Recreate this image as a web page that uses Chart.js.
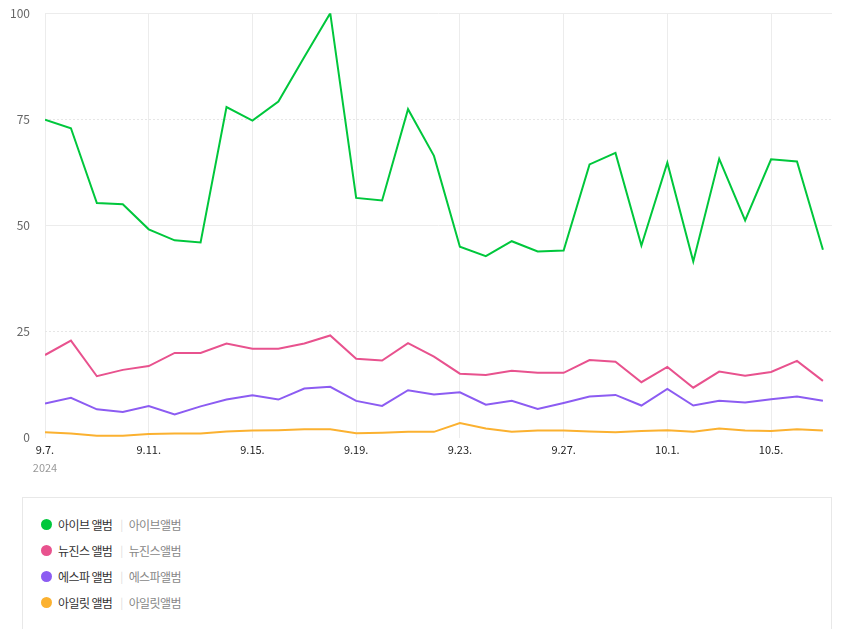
<!DOCTYPE html>
<html>
<head>
<meta charset="utf-8">
<script src="https://cdn.jsdelivr.net/npm/chart.js@4.4.1/dist/chart.umd.min.js"></script>
<style>
  body { margin: 0; background: #fff; font-family: "Noto Sans CJK KR", "Noto Sans", sans-serif; overflow: hidden; }
  .wrap { position: absolute; left: 0; top: -9px; width: 850px; height: 489px; }
  .legend { position: absolute; left: 22px; top: 497px; width: 810px; height: 140px; border: 1px solid #e8e8e8; box-sizing: border-box; padding-top: 13px; }
  .legend .row { display: flex; align-items: center; height: 26px; padding-left: 18px; font-size: 12px; letter-spacing: -0.6px; }
  .legend .dot { width: 11px; height: 11px; border-radius: 50%; margin-right: 6px; }
  .legend .name { color: #333; }
  .legend .sep { color: #ddd; margin: 0 6px 0 8px; font-size: 11px; }
  .legend .sub { color: #888; }
</style>
</head>
<body>
<div class="wrap"><canvas id="myChart"></canvas></div>
<div class="legend" id="legend"></div>
<script>
const dates = ['9.7.','9.8.','9.9.','9.10.','9.11.','9.12.','9.13.','9.14.','9.15.','9.16.','9.17.','9.18.','9.19.','9.20.','9.21.','9.22.',
               '9.23.','9.24.','9.25.','9.26.','9.27.','9.28.','9.29.','9.30.','10.1.','10.2.','10.3.','10.4.','10.5.','10.6.','10.7.'];
const yearLabel = '2024';

const names = ['아이브 앨범', '뉴진스 앨범', '에스파 앨범', '아일릿 앨범'];
const keywords = ['아이브앨범', '뉴진스앨범', '에스파앨범', '아일릿앨범'];
const colors = ['#00c73c', '#e8528e', '#8c5cf2', '#fbb130'];

const ive = [74.9, 72.9, 55.3, 55.0, 49.1, 46.5, 46.0, 77.9, 74.7, 79.2, 89.7, 100, 56.5, 55.9, 77.4, 66.4,
             45.0, 42.8, 46.3, 43.9, 44.1, 64.4, 67.1, 45.3, 64.8, 41.5, 65.7, 51.2, 65.6, 65.1, 44.3];
const newjeans = [19.5, 22.9, 14.5, 16.0, 16.9, 20.0, 20.0, 22.2, 21.0, 21.0, 22.2, 24.1, 18.6, 18.2, 22.3, 19.1,
                  15.1, 14.8, 15.8, 15.3, 15.3, 18.3, 17.9, 13.1, 16.7, 11.8, 15.6, 14.6, 15.5, 18.1, 13.4];
const aespa = [8.1, 9.4, 6.7, 6.1, 7.5, 5.5, 7.4, 9.0, 10.0, 9.0, 11.6, 12.0, 8.7, 7.5, 11.2, 10.2,
               10.7, 7.8, 8.7, 6.8, 8.2, 9.7, 10.1, 7.6, 11.5, 7.6, 8.7, 8.3, 9.1, 9.7, 8.7];
const illit = [1.3, 1.0, 0.5, 0.5, 0.9, 1.0, 1.0, 1.5, 1.7, 1.8, 2.0, 2.0, 1.1, 1.2, 1.4, 1.4,
               3.5, 2.2, 1.4, 1.7, 1.7, 1.5, 1.3, 1.6, 1.8, 1.4, 2.2, 1.7, 1.6, 2.0, 1.7];

const seriesValues = [ive, newjeans, aespa, illit];
const xTicks = [0, 4, 8, 12, 16, 20, 24, 28];

const datasets = seriesValues.map((vals, i) => ({
  label: names[i],
  data: vals.map((v, k) => ({ x: k, y: v })),
  borderColor: colors[i],
  backgroundColor: colors[i],
  borderWidth: 2,
  pointRadius: 0,
  tension: 0,
  fill: false
})).reverse();

// "2024" under the first date
const yearPlugin = {
  id: 'yearLabel',
  afterDraw(chart) {
    const sx = chart.scales.x, ctx = chart.ctx;
    ctx.save();
    ctx.font = '11px "Noto Sans CJK KR", sans-serif';
    ctx.fillStyle = '#999';
    ctx.textAlign = 'center';
    ctx.textBaseline = 'top';
    ctx.fillText(yearLabel, sx.getPixelForValue(0), sx.bottom + 1);
    ctx.restore();
  }
};

new Chart(document.getElementById('myChart'), {
  type: 'line',
  data: { datasets },
  options: {
    responsive: true,
    maintainAspectRatio: false,
    animation: false,
    layout: { padding: { top: 4, right: 18, bottom: 19, left: 0 } },
    plugins: { legend: { display: false }, tooltip: { enabled: false } },
    scales: {
      x: {
        type: 'linear',
        min: 0,
        max: 30.35,
        afterBuildTicks: s => { s.ticks = xTicks.map(v => ({ value: v })); },
        ticks: {
          callback: v => dates[v],
          color: '#222',
          font: { size: 11, family: '"Noto Sans CJK KR", sans-serif' },
          maxRotation: 0,
          autoSkip: false,
          padding: 5
        },
        grid: { color: '#ececec', drawTicks: false },
        border: { display: false }
      },
      y: {
        min: 0,
        max: 100,
        afterFit: s => { s.width = 45; },
        ticks: {
          stepSize: 25,
          color: '#666',
          font: { size: 12, family: '"Noto Sans CJK KR", sans-serif' },
          padding: 15
        },
        grid: {
          drawTicks: false,
          color: c => (c.tick.value === 50 || c.tick.value === 100) ? '#ececec' : 'rgba(0,0,0,0)'
        },
        border: { display: false }
      },
      y2: {
        min: 0,
        max: 100,
        position: 'left',
        display: true,
        afterBuildTicks: s => { s.ticks = [{ value: 25 }, { value: 75 }]; },
        afterFit: s => { s.width = 0; },
        ticks: { display: false },
        grid: { drawTicks: false, color: '#e6e6e6' },
        border: { display: false, dash: [2, 2] }
      }
    }
  },
  plugins: [yearPlugin]
});

const $legend = document.getElementById('legend');
names.forEach((n, i) => {
  const row = document.createElement('div');
  row.className = 'row';
  row.innerHTML = '<span class="dot" style="background:' + colors[i] + '"></span>' +
    '<span class="name">' + n + '</span><span class="sep">|</span><span class="sub">' + keywords[i] + '</span>';
  $legend.appendChild(row);
});
</script>
</body>
</html>
